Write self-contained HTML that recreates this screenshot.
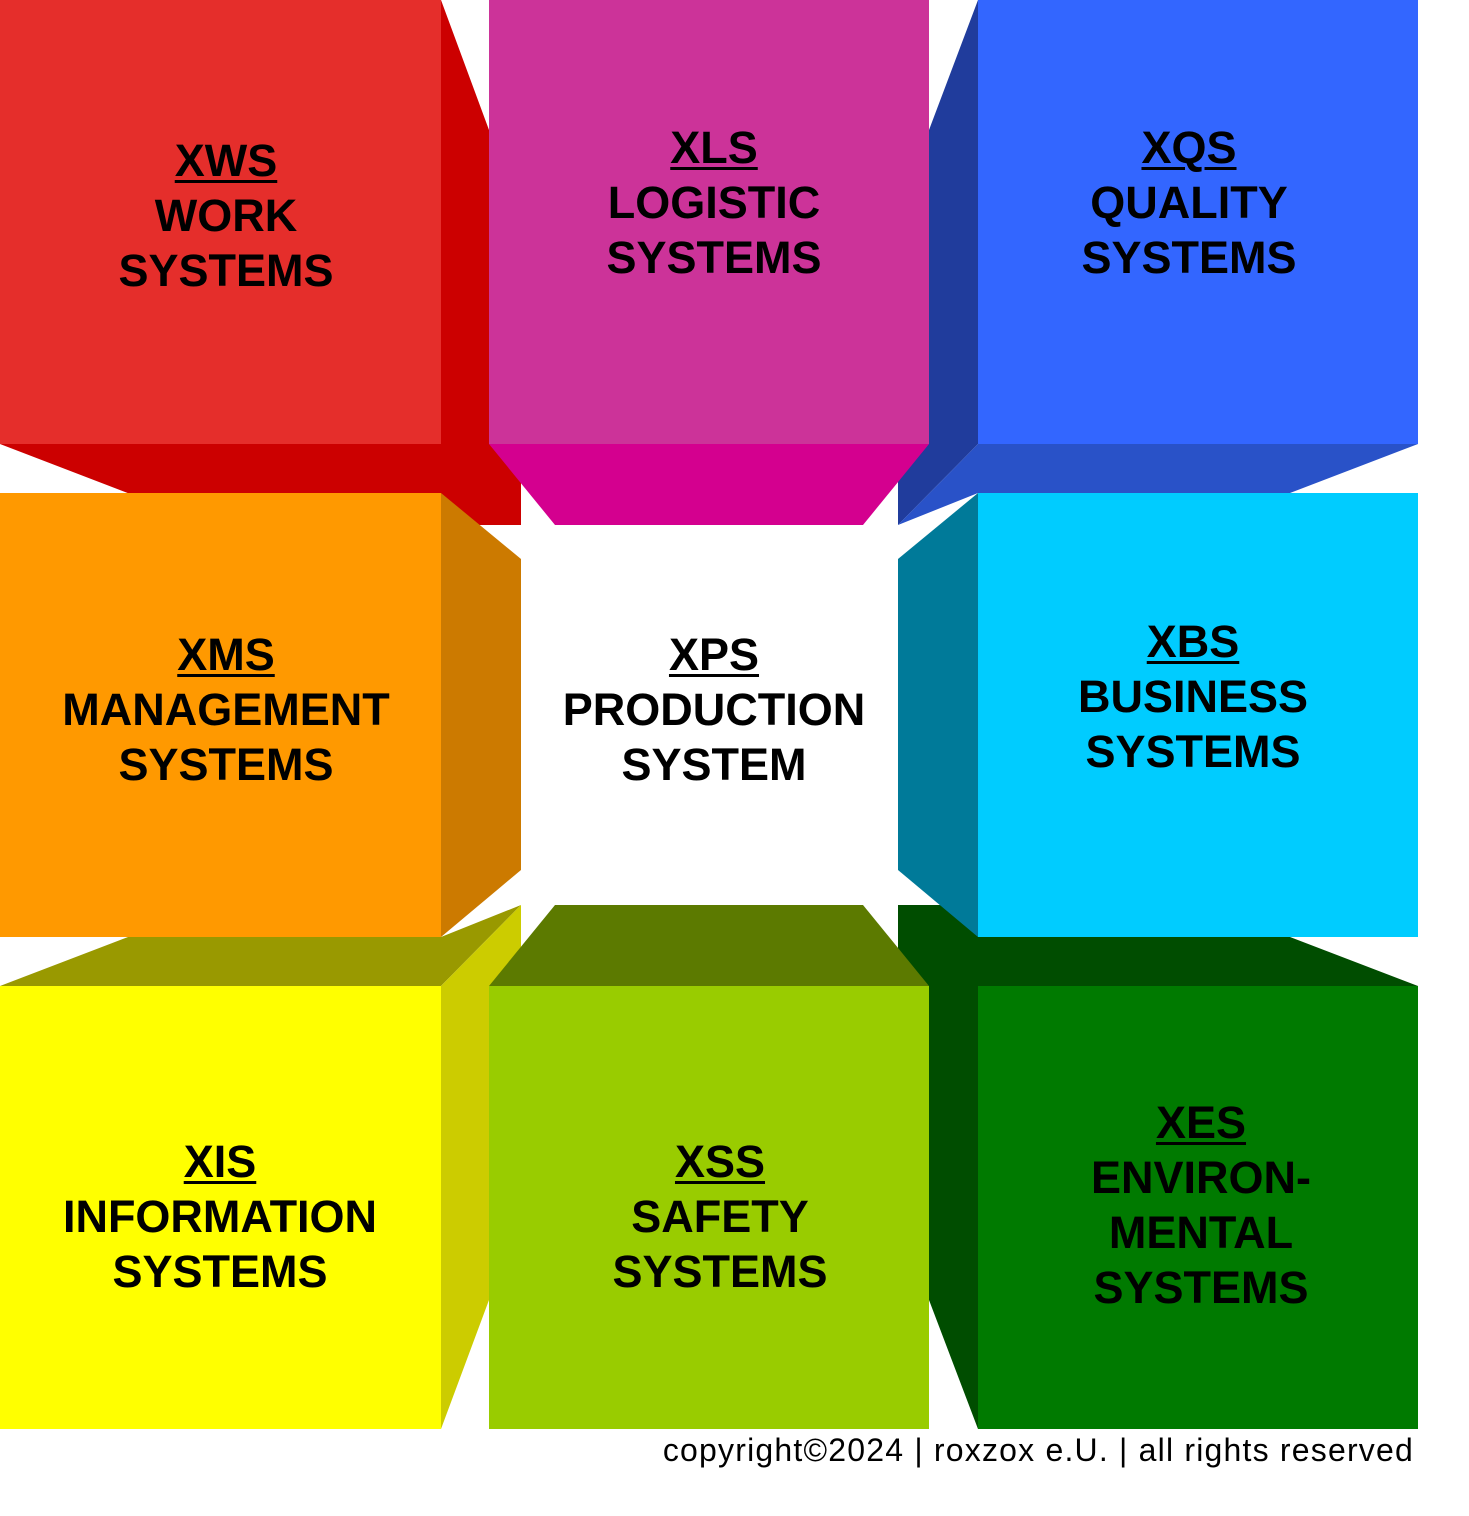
<!DOCTYPE html>
<html><head><meta charset="utf-8"><style>
html,body{margin:0;padding:0;background:#fff;}
body{width:1469px;height:1516px;position:relative;overflow:hidden;}
svg{position:absolute;left:0;top:0;}
.t{position:absolute;width:460px;margin-left:-230px;text-align:center;font-family:"Liberation Sans",sans-serif;font-weight:bold;font-size:45px;line-height:55px;color:#000;letter-spacing:0px;}
.t u{text-decoration-thickness:3px;text-underline-offset:4px;}
.c{position:absolute;right:55px;top:1432px;font-family:"Liberation Sans",sans-serif;font-size:32px;letter-spacing:1.2px;color:#000;white-space:nowrap;}
</style></head><body>
<svg width="1469" height="1516" viewBox="0 0 1469 1516">
<polygon points="0,444 441,444 441,0 489,130 521,130 521,525 211,525" fill="#cc0000"/>
<polygon points="978,0 929,130 898,130 898,525 978,444" fill="#203c9c"/>
<polygon points="978,444 1418,444 1290,493 978,493 898,525" fill="#2952c8"/>
<polygon points="489,444 929,444 863,525 555,525" fill="#d4008f"/>
<polygon points="898,905 978,905 978,937 1290,937 1418,986 978,986 978,1429 929,1300 898,1300" fill="#004d00"/>
<polygon points="0,986 128,937 441,937 521,905 441,986" fill="#999900"/>
<polygon points="441,986 521,905 521,1300 489,1300 441,1429" fill="#cccc00"/>
<polygon points="489,986 929,986 863,905 555,905" fill="#5c7a00"/>
<rect x="0" y="0" width="441" height="444" fill="#e52e2b"/>
<rect x="489" y="0" width="440" height="444" fill="#cc3399"/>
<rect x="978" y="0" width="440" height="444" fill="#3366ff"/>
<rect x="0" y="493" width="441" height="444" fill="#ff9900"/>
<rect x="978" y="493" width="440" height="444" fill="#00ccff"/>
<rect x="0" y="986" width="441" height="443" fill="#ffff00"/>
<rect x="489" y="986" width="440" height="443" fill="#99cc00"/>
<rect x="978" y="986" width="440" height="443" fill="#007a00"/>
<polygon points="441,493 521,559 521,870 441,937" fill="#cc7a00"/>
<polygon points="978,493 898,559 898,870 978,937" fill="#007a99"/>
</svg>
<div class="t" style="left:226px;top:133px"><u>XWS</u><br>WORK<br>SYSTEMS</div>
<div class="t" style="left:714px;top:120px"><u>XLS</u><br>LOGISTIC<br>SYSTEMS</div>
<div class="t" style="left:1189px;top:120px"><u>XQS</u><br>QUALITY<br>SYSTEMS</div>
<div class="t" style="left:226px;top:627px"><u>XMS</u><br>MANAGEMENT<br>SYSTEMS</div>
<div class="t" style="left:714px;top:627px"><u>XPS</u><br>PRODUCTION<br>SYSTEM</div>
<div class="t" style="left:1193px;top:614px"><u>XBS</u><br>BUSINESS<br>SYSTEMS</div>
<div class="t" style="left:220px;top:1134px"><u>XIS</u><br>INFORMATION<br>SYSTEMS</div>
<div class="t" style="left:720px;top:1134px"><u>XSS</u><br>SAFETY<br>SYSTEMS</div>
<div class="t" style="left:1201px;top:1095px"><u>XES</u><br>ENVIRON-<br>MENTAL<br>SYSTEMS</div>
<div class="c">copyright©2024 | roxzox e.U. | all rights reserved</div>
</body></html>
